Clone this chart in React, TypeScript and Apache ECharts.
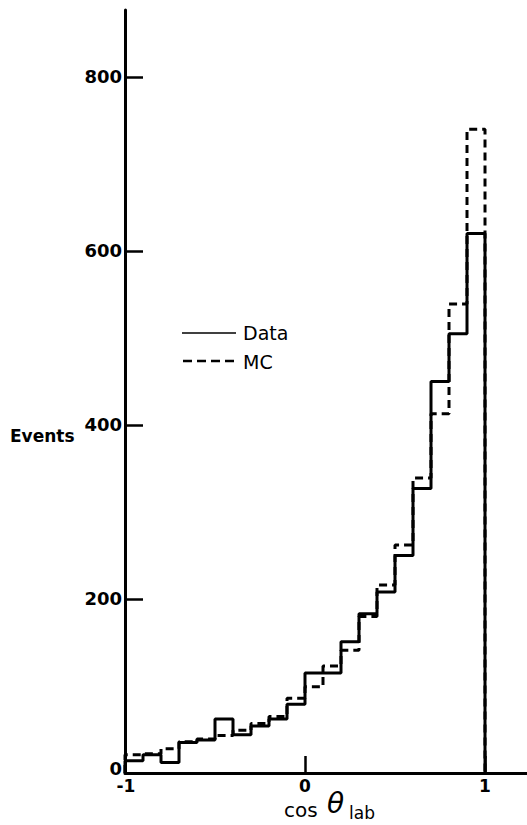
import React, { useEffect, useRef } from "react";
import * as echarts from "echarts";

const binEdges = [-1, -0.9, -0.8, -0.7, -0.6, -0.5, -0.4, -0.3, -0.2, -0.1, 0, 0.1, 0.2, 0.3, 0.4, 0.5, 0.6, 0.7, 0.8, 0.9, 1];
const dataCounts = [14, 21, 12, 35, 38, 62, 44, 54, 62, 79, 115, 115, 151, 183, 208, 250, 327, 450, 505, 620];
const mcCounts = [21, 22, 28, 36, 39, 43, 49, 57, 65, 86, 99, 123, 141, 180, 216, 262, 339, 413, 539, 740];
const yTicks = [0, 200, 400, 600, 800];
const xTicks = [-1, 0, 1];

function stepData(vals: number[]) {
  const pts: number[][] = [[binEdges[0], 0]];
  vals.forEach((v, i) => pts.push([binEdges[i], v]));
  pts.push([binEdges[binEdges.length - 1], vals[vals.length - 1]]);
  pts.push([binEdges[binEdges.length - 1], 0]);
  return pts;
}

const FONT = "'DejaVu Sans', sans-serif";

export default function App() {
  const ref = useRef<HTMLDivElement>(null);
  useEffect(() => {
    document.body.style.margin = "0";
    const chart = echarts.init(ref.current!, null, { renderer: "svg" });
    chart.setOption({
      animation: false,
      backgroundColor: "#fff",
      grid: { left: 125, right: 0, top: 10, bottom: 52 },
      xAxis: {
        type: "value",
        min: -1,
        max: 1.2333,
        interval: 1,
        axisLine: { onZero: false, lineStyle: { color: "#000", width: 3 } },
        axisTick: { inside: true, length: 17, lineStyle: { color: "#000", width: 2.5 } },
        splitLine: { show: false },
        axisLabel: {
          showMaxLabel: false,
          color: "#000",
          fontFamily: FONT,
          fontWeight: "bold",
          fontSize: 17,
          margin: 4,
          formatter: (v: number) => (xTicks.includes(v) ? (v === -1 ? "{m|-1}" : String(v)) : ""),
          rich: { m: { fontFamily: FONT, fontWeight: "bold", fontSize: 17, color: "#000", padding: [0, 0, 0, 2] } },
        },
      },
      yAxis: {
        type: "value",
        min: 0,
        max: 877,
        interval: 200,
        axisLine: { show: true, onZero: false, lineStyle: { color: "#000", width: 3 } },
        axisTick: { show: true, inside: true, length: 18, lineStyle: { color: "#000", width: 2.5 } },
        splitLine: { show: false },
        axisLabel: {
          showMaxLabel: false,
          color: "#000",
          fontFamily: FONT,
          fontWeight: "bold",
          fontSize: 18,
          margin: 3,
          formatter: (v: number) => (yTicks.includes(v) ? (v === 0 ? "{z|0}" : String(v)) : ""),
          rich: { z: { fontFamily: FONT, fontWeight: "bold", fontSize: 18, color: "#000", padding: [0, 0, 10, 0] } },
        },
      },
      series: [
        {
          name: "MC",
          type: "line",
          step: "end",
          symbol: "none",
          data: stepData(mcCounts),
          lineStyle: { color: "#000", width: 3, type: [8, 5] },
          z: 2,
        },
        {
          name: "Data",
          type: "line",
          step: "end",
          symbol: "none",
          data: stepData(dataCounts),
          lineStyle: { color: "#000", width: 3 },
          z: 3,
        },
      ],
      graphic: [
        { type: "line", shape: { x1: 182, y1: 333, x2: 236, y2: 333 }, style: { stroke: "#000", lineWidth: 1.5 } },
        { type: "text", x: 243, y: 333, style: { text: "Data", fill: "#000", font: `19px ${FONT}`, verticalAlign: "middle" } },
        { type: "line", shape: { x1: 183, y1: 361, x2: 234, y2: 361 }, style: { stroke: "#000", lineWidth: 2.5, lineDash: [9, 5] } },
        { type: "text", x: 243, y: 362, style: { text: "MC", fill: "#000", font: `19px ${FONT}`, verticalAlign: "middle" } },
        { type: "text", x: 10, y: 436, style: { text: "Events", fill: "#000", font: `bold 17px ${FONT}`, verticalAlign: "middle" } },
        { type: "text", x: 284, y: 810, style: { text: "cos", fill: "#000", font: `20px ${FONT}`, verticalAlign: "middle" } },
        { type: "text", x: 327, y: 803, style: { text: "θ", fill: "#000", font: `italic 28px ${FONT}`, verticalAlign: "middle" } },
        { type: "text", x: 349, y: 813, style: { text: "lab", fill: "#000", font: `17px ${FONT}`, verticalAlign: "middle" } },
      ],
    });
    return () => chart.dispose();
  }, []);
  return <div ref={ref} style={{ width: 527, height: 825 }} />;
}
